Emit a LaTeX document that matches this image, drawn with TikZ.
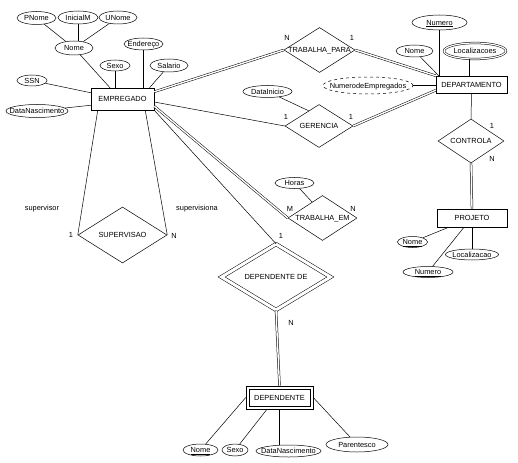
\documentclass[tikz,border=0pt]{standalone}
\usepackage{fontspec}
\setmainfont{Liberation Sans}
\usetikzlibrary{shapes.geometric,calc}
\begin{document}
\begin{tikzpicture}[x=1pt,y=-1pt,line width=0.5pt,
  txt/.style={font=\fontsize{7.4}{8}\selectfont, inner sep=0pt, text height=5.3pt, text depth=0pt},
  attr/.style={draw, ellipse, inner sep=0pt, label={[txt]center:#1}},
  rel/.style={draw, diamond, inner sep=0pt, label={[txt]center:#1}},
  ent/.style={draw, rectangle, inner sep=0pt, label={[txt]center:#1}},
  dbl/.style={double, double distance=1.4pt},
  sz/.style 2 args={minimum width=#1, minimum height=#2}]
\useasboundingbox (0,0) rectangle (518,462);
% EMPREGADO and attributes
\node[ent=EMPREGADO, sz={63pt}{22pt}] (emp) at (122.5,99) {};
\node[attr=PNome, sz={39pt}{13pt}] (pnome) at (36.5,18) {};
\node[attr=InicialM, sz={40pt}{13pt}] (inim) at (78,17.5) {};
\node[attr=UNome, sz={38pt}{13pt}] (unome) at (118,17.5) {};
\node[attr=Nome, sz={38pt}{14pt}] (nome) at (74,48) {};
\node[attr=Endereço, sz={39pt}{12pt}] (end) at (143.5,44) {};
\node[attr=Sexo, sz={30pt}{11pt}] (sexo) at (115,65.5) {};
\node[attr=Salario, sz={38pt}{13pt}] (sal) at (169,65.5) {};
\node[attr=SSN, sz={30pt}{11pt}] (ssn) at (32,80.5) {};
\node[attr=DataNascimento, sz={62pt}{13pt}] (dn) at (37,111) {};
% relationships
\node[rel=TRABALHA\_PARA, sz={71pt}{45pt}] (tp) at (319.5,50) {};
\node[rel=GERENCIA, sz={68pt}{43pt}] (ger) at (319,126) {};
\node[rel=TRABALHA\_EM, sz={69pt}{45pt}] (tem) at (322.5,218) {};
\node[rel=CONTROLA, sz={66pt}{44pt}] (ctrl) at (471,141) {};
\node[rel=SUPERVISAO, sz={89pt}{56pt}] (sup) at (122.5,235) {};
\node[rel=DEPENDENTE DE, sz={109pt}{66pt}, double, double distance=3pt] (depde) at (276,277) {};
% entities
\node[ent=DEPARTAMENTO, sz={71pt}{17pt}] (dept) at (471.5,84.5) {};
\node[ent=PROJETO, sz={70pt}{18pt}] (proj) at (472,218) {};
\node[ent=DEPENDENTE, sz={67pt}{23pt}] (dep) at (279.5,397.5) {};
\draw ([shift={(3pt,-3pt)}]dep.north west) rectangle ([shift={(-3pt,3pt)}]dep.south east);
% department attributes
\node[attr={\underline{Numero}}, sz={55pt}{15pt}] (numd) at (439.5,22.5) {};
\node[attr=Localizacoes, sz={62pt}{16pt}, double, double distance=1.2pt] (locs) at (475,51) {};
\node[attr=Nome, sz={37pt}{12pt}] (nomed) at (414.5,51) {};
\node[attr=NumerodeEmpregados, sz={90pt}{17pt}, dashed] (nemp) at (368,85.5) {};
\node[attr=DataInicio, sz={49pt}{12pt}] (dini) at (267.5,91.5) {};
\node[attr=Horas, sz={39pt}{11pt}] (horas) at (294.5,183) {};
% project attributes
\node[attr={\underline{Nome}}, sz={30pt}{11pt}] (nomep) at (412.5,242) {};
\node[attr=Localizacao, sz={53pt}{11pt}] (locp) at (472,254.5) {};
\node[attr={\underline{Numero}}, sz={50pt}{11pt}] (nump) at (428,272) {};
% dependent attributes
\node[attr={\underline{Nome}}, sz={35pt}{12pt}] (nome2) at (200.5,450) {};
\node[attr=Sexo, sz={26pt}{12pt}] (sexo2) at (235,450) {};
\node[attr=DataNascimento, sz={65pt}{12pt}] (dn2) at (288.5,451) {};
\node[attr=Parentesco, sz={62pt}{15pt}] (par) at (357,444.5) {};
% cardinality and role labels
\node[txt] (c1) at (287,38) {N};
\node[txt] (c2) at (352,38) {1};
\node[txt] (c3) at (286,117) {1};
\node[txt] (c4) at (351,117) {1};
\node[txt] (c5) at (492,126) {1};
\node[txt] (c6) at (492,159) {N};
\node[txt] (c7) at (290,209) {M};
\node[txt] (c8) at (353,209) {N};
\node[txt] (c9) at (281,236) {1};
\node[txt] (c10) at (291,323) {N};
\node[txt] (c11) at (71,235) {1};
\node[txt] (c12) at (174,236) {N};
\node[txt] (r1) at (42,208) {supervisor};
\node[txt] (r2) at (197,208) {supervisiona};
% connectors: EMPREGADO attributes
\draw (pnome) -- (nome);
\draw (inim.south) -- (inim.south |- nome.north);
\draw (unome) -- (nome);
\draw (nome) -- ([xshift=-12.5pt]emp.north);
\draw (sexo.south) -- (sexo.south |- emp.north);
\draw (end.south) -- (end.south |- emp.north);
\draw (sal) -- ([xshift=27pt]emp.north);
\draw (ssn) -- ([yshift=-5pt]emp.north west);
\draw (dn) -- ([yshift=5pt]emp.south west);
% relationships
\draw[dbl] ([yshift=-4pt]emp.north east) -- (tp.west);
\draw[dbl] (tp.east) -- (dept.north west);
\draw ([yshift=-3pt]emp.east) -- (ger.west);
\draw[dbl] (ger.east) -- ([yshift=3pt]dept.south west);
\draw (dini) -- ($(ger.north)!0.3!(ger.west)$);
\draw[dbl] ([yshift=4pt]emp.south east) -- (tem.west);
\draw (emp.south east) -- (depde.north);
\draw[dbl] (tem.east) -- (proj.west);
\draw (horas) -- ($(tem.north)!0.3!(tem.west)$);
\draw (dept.south) -- (ctrl.north);
\draw[dbl] (ctrl.south) -- (proj.north);
\draw ([xshift=7pt]emp.south west) -- (sup.west);
\draw ([xshift=-9pt]emp.south east) -- (sup.east);
% department attributes
\draw (numd.south) -- (numd.south |- dept.north);
\draw ([xshift=-6pt]locs.south) -- ([xshift=-6pt]locs.south |- dept.north);
\draw (nomed) -- ([xshift=3pt]dept.north west);
\draw (nemp.east) -- (nemp.east -| dept.west);
% project attributes
\draw (nomep) -- ([xshift=12pt]proj.south west);
\draw (locp.north) -- (locp.north |- proj.south);
\draw (nump) -- ([xshift=-8pt]proj.south);
% dependent
\draw[dbl] (depde.south) -- (dep.north);
\draw (nome2) -- (dep.west);
\draw (sexo2) -- ([xshift=-12.5pt]dep.south);
\draw (dep.south) -- (dep.south |- dn2.north);
\draw (dep.east) -- (par);
\end{tikzpicture}
\end{document}
